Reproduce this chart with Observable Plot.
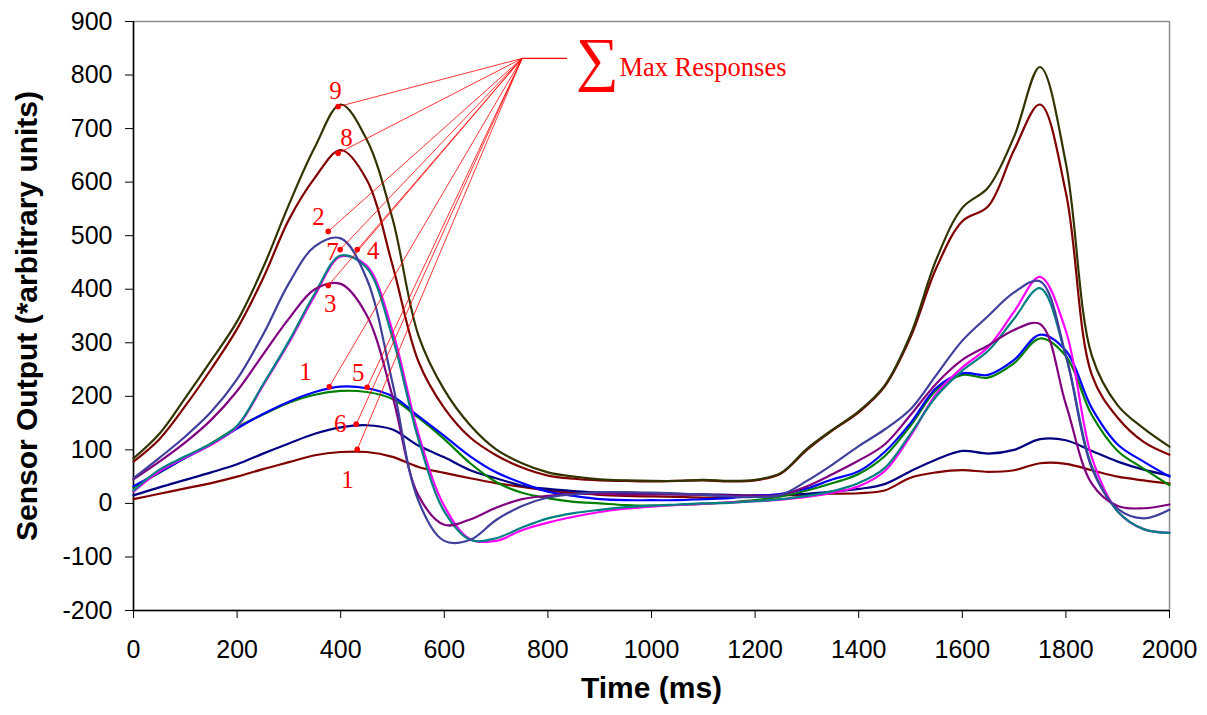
<!DOCTYPE html>
<html>
<head>
<meta charset="utf-8">
<script src="https://cdn.jsdelivr.net/npm/d3@7"></script>
<script src="https://cdn.jsdelivr.net/npm/@observablehq/plot@0.6"></script>
<style>
  html, body { margin: 0; padding: 0; background: #ffffff; }
  #chart svg { display: block; }
</style>
</head>
<body>
<div id="chart"></div>
<script>
// ---- Data ----
const time = [0,50,100,150,200,250,300,350,400,450,500,550,600,650,700,750,800,850,900,950,1000,1050,1100,1150,1200,1250,1300,1350,1400,1450,1500,1550,1600,1650,1700,1750,1800,1850,1900,1950,2000];

const sensor9 = [84,130,197,267,340,440,558,665,745,680,532,314,212,146,101,75,58,50,45,43,42,42,44,42,44,57,102,138,172,220,315,456,552,590,685,815,635,276,183,140,106];
const sensor8 = [78,120,182,251,326,420,530,608,660,605,445,265,178,123,90,67,52,46,43,42,41,42,43,41,43,56,100,137,170,218,310,440,527,555,660,745,580,240,160,115,91];
const sensor2 = [47,85,125,171,232,315,411,480,495,420,225,5,-70,-68,-31,-5,11,17,21,21,20,19,16,13,12,16,42,73,107,138,176,240,304,350,394,415,276,66,-10,-28,-12];
const sensor3 = [45,78,114,156,210,278,345,400,410,352,200,15,-40,-30,-8,8,14,18,18,17,17,17,16,15,14,16,32,55,80,110,165,224,268,295,324,335,185,37,-5,-9,-2];
const sensor7 = [24,63,88,112,145,222,303,392,463,440,310,120,-15,-68,-65,-45,-28,-18,-12,-7,-4,-2,0,1,4,8,14,23,38,66,130,200,248,285,345,402,275,69,-15,-48,-55];
const sensor4 = [22,60,86,110,143,220,300,388,461,444,322,130,-5,-67,-70,-50,-36,-25,-16,-10,-6,-3,-1,2,4,7,12,20,32,60,126,205,254,292,358,423,322,86,-15,-48,-55];
const sensor1 = [32,58,85,110,140,167,190,208,218,215,200,163,126,88,58,38,22,14,8,6,6,6,8,10,14,18,28,45,60,96,150,216,243,240,268,315,285,178,110,78,50];
const sensor5 = [30,57,85,112,142,166,188,203,210,208,195,160,120,75,40,20,10,3,0,-3,-4,-3,-1,2,6,13,24,38,55,88,145,212,240,235,262,308,275,165,98,65,34];
const sensor6 = [15,30,44,58,73,93,112,130,142,146,138,108,86,62,47,33,27,23,20,19,18,17,17,16,15,16,18,22,27,36,60,82,98,93,100,120,118,98,78,63,52];
const sensor1b = [8,18,28,38,50,64,77,90,96,96,87,68,57,47,38,31,24,20,16,14,13,12,11,12,14,15,16,18,19,24,48,58,62,59,62,75,74,62,50,43,37];

// drawing order: first drawn at the bottom
const seriesValues = [sensor1b, sensor6, sensor5, sensor1, sensor4, sensor7, sensor3, sensor2, sensor8, sensor9];
const seriesColors = ["#800000", "#000080", "#008000", "#0000ff", "#ff00ff", "#008080", "#800080", "#3f3f9c", "#800000", "#333300"];

// Max-response markers
const peakLabels = ["9", "8", "2", "7", "4", "3", "1", "5", "6", "1"];
const peakT      = [395, 395, 376, 399, 432, 376, 378, 451, 430, 432];
const peakV      = [741, 654, 508, 474, 474, 407, 218, 217, 148, 101];
const labelT     = [390, 411, 357, 384, 463, 380, 332, 434, 399, 413];
const labelV     = [771, 683, 534, 469, 472, 373, 246, 243, 148, 43];

const hubT = 750, hubV = 831, hubEndT = 837;
const annotationTitle = "Max Responses";
const sigma = "∑";
const sigmaT = 895, sigmaV = 828;
const titleT = 938, titleV = 799;

const xTicks = [0,200,400,600,800,1000,1200,1400,1600,1800,2000];
const yTicks = [-200,-100,0,100,200,300,400,500,600,700,800,900];
const xTitle = "Time (ms)";
const yTitle = "Sensor Output (*arbitrary units)";

// ---- Build marks ----
const peaks = peakT.map((t, i) => ({t, v: peakV[i], label: peakLabels[i], lt: labelT[i], lv: labelV[i]}));

const lineMarks = seriesValues.map((vals, k) =>
  Plot.line(vals, {
    x: (d, i) => time[i],
    y: d => d,
    stroke: seriesColors[k],
    strokeWidth: 2.2,
    curve: "catmull-rom"
  })
);

const serif = "'Liberation Serif', 'Times New Roman', serif";
const sans = "'Liberation Sans', Arial, sans-serif";

const chart = Plot.plot({
  width: 1207,
  height: 715,
  marginLeft: 133,
  marginRight: 38,
  marginTop: 21,
  marginBottom: 105,
  style: { fontFamily: sans, fontSize: "25px", background: "#ffffff", color: "#000000" },
  x: { domain: [0, 2000] },
  y: { domain: [-200, 900] },
  marks: [
    Plot.frame({ stroke: "#8c8c8c", strokeWidth: 1.5 }),
    Plot.axisX({ ticks: xTicks, tickSize: 8, tickPadding: 22, tickFormat: d => String(d), label: null, fontSize: 25 }),
    Plot.axisY({ ticks: yTicks, tickSize: 8, tickPadding: 13, tickFormat: d => String(d), label: null, fontSize: 25 }),
    Plot.ruleX([0], { stroke: "#000000", strokeWidth: 1.5 }),
    Plot.ruleY([-200], { stroke: "#000000", strokeWidth: 1.5 }),
    ...lineMarks,
    // leader lines from the hub to each max point
    Plot.link(peaks, { x1: () => hubT, y1: () => hubV, x2: "t", y2: "v", stroke: "#ff0000", strokeWidth: 0.8 }),
    Plot.link([0], { x1: () => hubT, y1: () => hubV, x2: () => hubEndT, y2: () => hubV, stroke: "#ff0000", strokeWidth: 1.2 }),
    Plot.dot(peaks, { x: "t", y: "v", r: 2.8, fill: "#ff0000", stroke: "none" }),
    Plot.text(peaks, { x: "lt", y: "lv", text: "label", fill: "#ff0000", fontFamily: serif, fontSize: 25 }),
    Plot.text([sigma], { x: () => sigmaT, y: () => sigmaV, text: d => d, fill: "#ff0000", fontFamily: serif, fontSize: 60 }),
    Plot.text([annotationTitle], { x: () => titleT, y: () => titleV, text: d => d, fill: "#ff0000", fontFamily: serif, fontSize: 26.5, textAnchor: "start", lineAnchor: "bottom" }),
    // axis titles
    Plot.text([xTitle], { frameAnchor: "bottom", dy: 87, text: d => d, fontFamily: sans, fontWeight: "bold", fontSize: 30, fill: "#000000" }),
    Plot.text([yTitle], { frameAnchor: "left", dx: -106, rotate: -90, textAnchor: "middle", text: d => d, fontFamily: sans, fontWeight: "bold", fontSize: 30, fill: "#000000" })
  ]
});

document.getElementById("chart").appendChild(chart);
</script>
</body>
</html>
